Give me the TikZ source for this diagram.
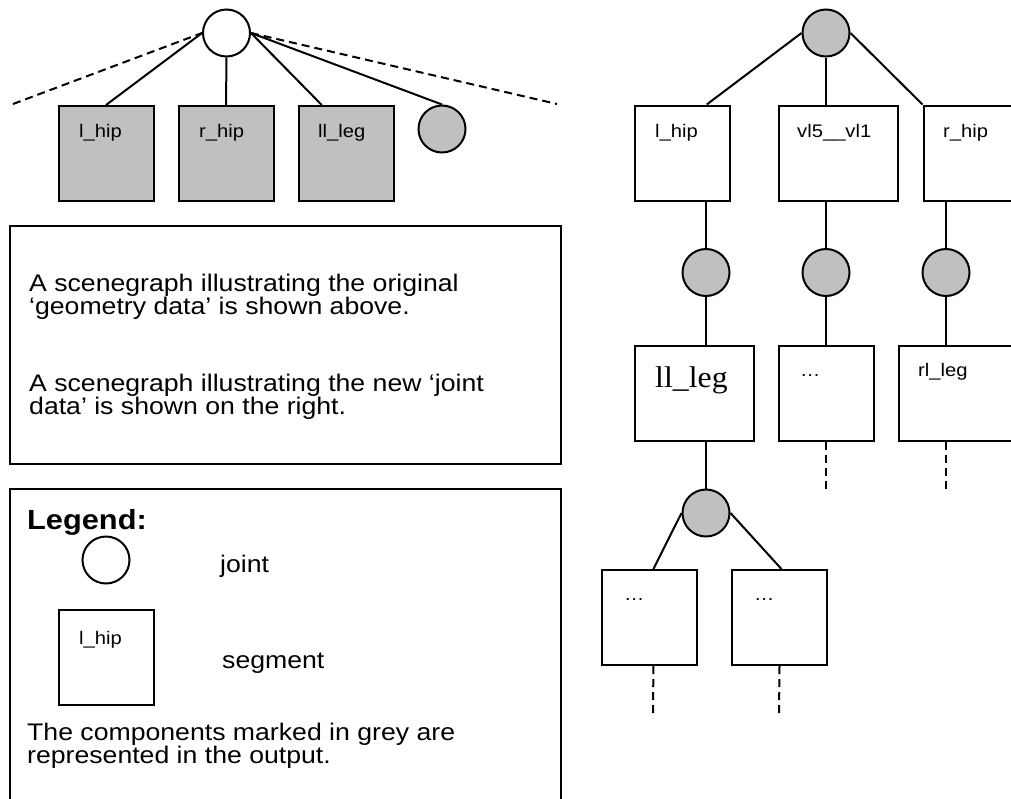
\documentclass[tikz,border=0pt]{standalone}
\usepackage{fontspec}
\setmainfont[FakeStretch=1.11]{Liberation Sans}
\newfontfamily\serifface[FakeStretch=1.06]{Liberation Serif}
\usetikzlibrary{calc}
\definecolor{jointgrey}{RGB}{192,192,192}

\begin{document}
\begin{tikzpicture}[x=1pt,y=-1pt,
  joint/.style={circle, draw, line width=2pt, minimum size=47pt, inner sep=0pt},
  seg/.style={rectangle, draw, line width=2pt, minimum width=95pt, minimum height=95pt, inner sep=0pt},
  wideseg/.style={seg, minimum width=119pt},
  shaded/.style={fill=jointgrey},
  link/.style={line width=2pt},
  trail/.style={line width=2pt, dash pattern=on 8pt off 5pt},
  lbl/.style={font=\fontsize{18.2}{18.2}\selectfont, anchor=base west, inner sep=0pt},
  body/.style={font=\fontsize{24}{24}\selectfont, anchor=base west, inner sep=0pt},
  frame/.style={rectangle, draw, line width=2pt, inner sep=0pt}
]
\useasboundingbox (0,0) rectangle (1011,798);
\clip (0,0) rectangle (1011,798);

% ---------- original geometry scenegraph ----------
\node[joint] (J0) at (226.5,33) {};
\node[seg, shaded] (LH) at (106,153.5) {};
\node[seg, shaded] (RH) at (226,153.5) {};
\node[seg, shaded] (LL) at (346,153.5) {};
\node[joint, shaded] (G0) at (442,129) {};
\node[lbl] (tLH) at (79,137) {l\_hip};
\node[lbl] (tRH) at (199,137) {r\_hip};
\node[lbl] (tLL) at (318,137) {ll\_leg};
\coordinate (DL) at (13,104);
\coordinate (DR) at (557,104);

\draw[link] (J0.west) -- (LH.north);
\draw[link] (J0.south) -- (RH.north);
\draw[link] (J0.east) -- ($(LL.north west)!0.25!(LL.north east)$);
\draw[link] (J0.east) -- (G0.north);
\draw[trail] (DL) -- (J0.west);
\draw[trail] (J0.east) -- (DR);

% ---------- description ----------
\node[frame, minimum width=551pt, minimum height=238pt] (TB) at (285.5,345) {};
\node[body] (P1a) at (29,291) {A scenegraph illustrating the original};
\node[body] (P1b) at (29,314) {‘geometry data’ is shown above.};
\node[body] (P2a) at (29,391) {A scenegraph illustrating the new ‘joint};
\node[body] (P2b) at (29,414) {data’ is shown on the right.};

% ---------- legend ----------
\node[frame, minimum width=551pt, minimum height=331pt] (LG) at (285.5,654.5) {};
\node[anchor=base west, inner sep=0pt, font=\fontsize{27.7}{27.7}\selectfont\bfseries] (LT) at (27,529) {Legend:};
\node[joint] (LJ) at (106,560) {};
\node[body] (tLJ) at (220,572) {joint};
\node[seg] (LS) at (106,657.5) {};
\node[lbl] (tLS) at (79,644) {l\_hip};
\node[body] (tSeg) at (222,668) {segment};
\node[body] (P3a) at (27,740) {The components marked in grey are};
\node[body] (P3b) at (27,763) {represented in the output.};

% ---------- joint scenegraph ----------
\node[joint, shaded] (R0) at (826,33) {};
\node[seg] (A1) at (682.5,153) {};
\node[wideseg] (A2) at (838,153) {};
\node[seg] (A3) at (971,153) {};
\node[lbl] (tA1) at (655,137) {l\_hip};
\node[lbl] (tA2) at (797,137) {vl5\_\_vl1};
\node[lbl] (tA3) at (943,137) {r\_hip};

\node[joint, shaded] (M1) at (706,272.5) {};
\node[joint, shaded] (M2) at (826,272.5) {};
\node[joint, shaded] (M3) at (946,272.5) {};

\node[wideseg] (B1) at (694,393) {};
\node[seg] (B2) at (826,393) {};
\node[wideseg] (B3) at (958,393) {};
\node[anchor=base west, inner sep=0pt, font=\fontsize{30}{30}\serifface] (tB1) at (655,387) {ll\_leg};
\node[lbl] (tB2) at (800,376) {…};
\node[lbl] (tB3) at (918,376) {rl\_leg};

\node[joint, shaded] (L1) at (706,513) {};
\node[seg] (C1) at (649.5,617.5) {};
\node[seg] (C2) at (779.5,617.5) {};
\node[lbl] (tC1) at (624,600) {…};
\node[lbl] (tC2) at (754,600) {…};

\coordinate (E2) at (826,490);
\coordinate (E3) at (946,490);
\coordinate (F1) at (653,718);
\coordinate (F2) at (779,717);

\draw[link] (R0.west) -- ($(A1.north west)!0.75!(A1.north east)$);
\draw[link] (R0.south) -- (R0.south |- A2.north);
\draw[link] (R0.east) -- (A3.north west);
\draw[link] (M1.north) -- (M1.north |- A1.south);
\draw[link] (M2.north) -- (M2.north |- A2.south);
\draw[link] (M3.north) -- (M3.north |- A3.south);
\draw[link] (M1.south) -- (M1.south |- B1.north);
\draw[link] (M2.south) -- (M2.south |- B2.north);
\draw[link] (M3.south) -- (M3.south |- B3.north);
\draw[link] (L1.north) -- (L1.north |- B1.south);
\draw[trail] (M2.south |- B2.south) -- (E2);
\draw[trail] (M3.south |- B3.south) -- (E3);
\draw[link] (L1.west) -- ($(C1.north west)!0.54!(C1.north east)$);
\draw[link] (L1.east) -- ($(C2.north west)!0.52!(C2.north east)$);
\draw[trail] ($(C1.south west)!0.54!(C1.south east)$) -- (F1);
\draw[trail] ($(C2.south west)!0.5!(C2.south east)$) -- (F2);
\end{tikzpicture}
\end{document}
